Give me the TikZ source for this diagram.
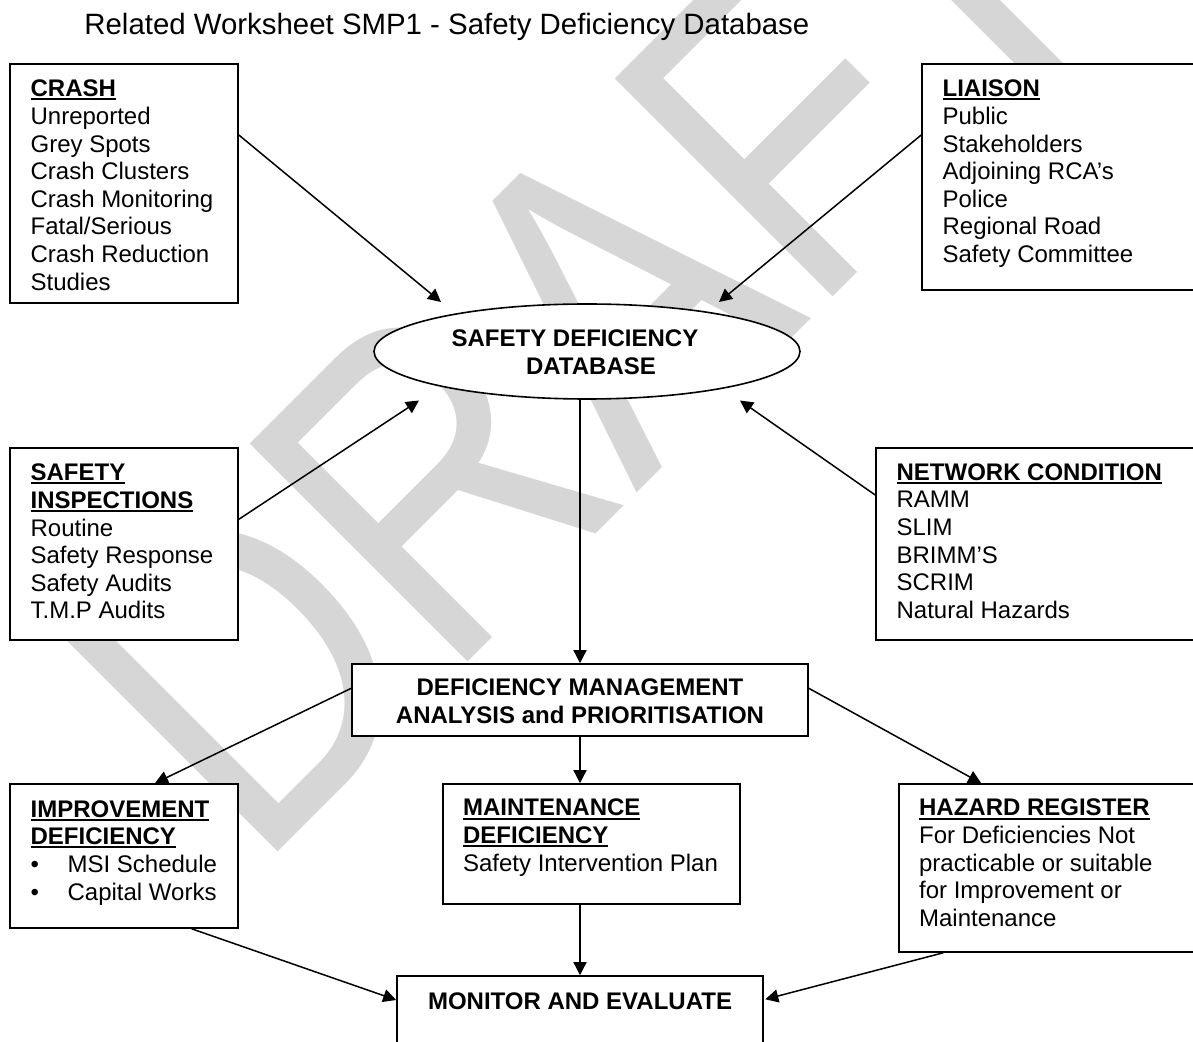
\documentclass[tikz,border=0pt]{standalone}
\usepackage{fontspec}
\setmainfont{Liberation Sans}
\usepackage{pdfrender}
\usetikzlibrary{arrows.meta,shapes.geometric,calc}

% bold heading with a thick underline
\newcommand\hdr[1]{\sbox0{\bfseries #1}\rlap{\rule[-1.8pt]{\wd0}{1pt}}\usebox0}
% stacked lines with first-line baseline
\newcommand\boxlines[2][l]{\begin{tabular}[t]{@{}#1@{}}#2\end{tabular}}
% bulleted entry
\newcommand\bitem[1]{\makebox[18.5pt][l]{\textbullet}#1}

\tikzset{
  box/.style={draw, line width=0.8pt, rectangle, inner sep=0pt, fill=white},
  oval/.style={draw, line width=0.8pt, ellipse, inner sep=0pt, fill=white},
  txt/.style={anchor=base west, inner sep=0pt, font=\fontsize{12}{13.8}\selectfont},
  ctxt/.style={anchor=base, inner sep=0pt, font=\fontsize{12}{13.8}\selectfont\bfseries},
  link/.style={line width=0.75pt, -{Triangle[length=6.5pt,width=6.5pt]}},
}

\begin{document}
\begin{tikzpicture}[x=0.5pt,y=-0.5pt]
\path[use as bounding box, fill=white] (0,0) rectangle (1193,1042);

% DRAFT watermark in outlined letters
\node[rotate=45, xscale=0.93, yscale=1.12, anchor=base west, inner sep=0pt, text=black!16,
      font=\fontsize{200}{200}\selectfont] (wm) at (256,874)
  {\textpdfrender{TextRenderingMode=1, LineWidth=17, LineJoinStyle=1}{DRAFT}};

% title
\node[anchor=base west, inner sep=0pt, font=\fontsize{14.7}{17}\selectfont] (title) at (84,35)
  {Related Worksheet SMP1 - Safety Deficiency Database};

% boxes
\node[box, minimum width=114pt, minimum height=119.5pt] (crash) at (124,183.5) {};
\node[box, minimum width=139pt, minimum height=113pt] (liaison) at (1061,177) {};
\node[oval, minimum width=213pt, minimum height=47.5pt] (sdb) at (587,351.5) {};
\node[box, minimum width=114pt, minimum height=96pt] (si) at (124,544) {};
\node[box, minimum width=162pt, minimum height=96pt] (nc) at (1038,544) {};
\node[box, minimum width=228pt, minimum height=36pt] (dm) at (580,700) {};
\node[box, minimum width=114pt, minimum height=72pt] (imp) at (124,856) {};
\node[box, minimum width=148.5pt, minimum height=60pt] (mnt) at (591.5,844) {};
\node[box, minimum width=150.5pt, minimum height=84pt] (haz) at (1049.5,868) {};
\node[box, minimum width=183pt, minimum height=42pt] (mon) at (580,1018) {};

% box texts
\node[txt] (crash-t) at ($(crash.north west)+(21,33.7)$)
  {\boxlines{\hdr{CRASH}\\Unreported\\Grey Spots\\Crash Clusters\\Crash Monitoring\\Fatal/Serious\\Crash Reduction\\Studies}};
\node[txt] (liaison-t) at ($(liaison.north west)+(21,33.7)$)
  {\boxlines{\hdr{LIAISON}\\Public\\Stakeholders\\Adjoining RCA’s\\Police\\Regional Road\\Safety Committee}};
\node[ctxt] (sdb-t) at (575,346.7)
  {\boxlines[c]{SAFETY DEFICIENCY\\\hspace*{16pt}DATABASE}};
\node[txt] (si-t) at ($(si.north west)+(21,33.7)$)
  {\boxlines{\hdr{SAFETY}\\\hdr{INSPECTIONS}\\Routine\\Safety Response\\Safety Audits\\T.M.P Audits}};
\node[txt] (nc-t) at ($(nc.north west)+(21,33.2)$)
  {\boxlines{\hdr{NETWORK CONDITION}\\RAMM\\SLIM\\BRIMM’S\\SCRIM\\Natural Hazards}};
\node[ctxt] (dm-t) at ($(dm.north)+(0,32.7)$)
  {\boxlines[c]{DEFICIENCY MANAGEMENT\\ANALYSIS and PRIORITISATION}};
\node[txt] (imp-t) at ($(imp.north west)+(21,34)$)
  {\boxlines{\hdr{IMPROVEMENT}\\\hdr{DEFICIENCY}\\\bitem{MSI Schedule}\\\bitem{Capital Works}}};
\node[txt] (mnt-t) at ($(mnt.north west)+(20.5,32.7)$)
  {\boxlines{\hdr{MAINTENANCE}\\\hdr{DEFICIENCY}\\Safety Intervention Plan}};
\node[txt] (haz-t) at ($(haz.north west)+(20.5,32.7)$)
  {\boxlines{\hdr{HAZARD REGISTER}\\For Deficiencies Not\\practicable or suitable\\for Improvement or\\Maintenance}};
\node[ctxt] (mon-t) at ($(mon.north)+(0,34)$) {MONITOR AND EVALUATE};

% arrow tips that stop short of the oval
\coordinate (sdb-a) at ($(sdb.center)+(-146,-49.5)$);
\coordinate (sdb-b) at ($(sdb.center)+(132,-49.5)$);
\coordinate (sdb-c) at ($(sdb.center)+(-168,49)$);
\coordinate (sdb-d) at ($(sdb.center)+(153,49)$);

% connectors
\draw[link] ($(crash.east)+(0,-48.5)$) -- (sdb-a);
\draw[link] ($(liaison.west)+(0,-42)$) -- (sdb-b);
\draw[link] ($(si.east)+(0,-24.7)$) -- (sdb-c);
\draw[link] ($(nc.west)+(0,-49)$) -- (sdb-d);
\draw[link] (sdb.south -| dm.north) -- (dm.north);
\draw[link] ($(dm.west)+(0,-11.7)$) -- ($(imp.north)+(31,0)$);
\draw[link] ($(dm.east)+(0,-11.7)$) -- ($(haz.north west)+(83,0)$);
\draw[link] (dm.south) -- (dm.south |- mnt.north);
\draw[link] (mnt.south -| mon.north) -- (mon.north);
\draw[link] ($(imp.south)+(67.7,0)$) -- ($(mon.west)+(0,-18)$);
\draw[link] ($(haz.south west)+(45,0)$) -- ($(mon.east)+(1.5,-18.7)$);
\end{tikzpicture}
\end{document}
